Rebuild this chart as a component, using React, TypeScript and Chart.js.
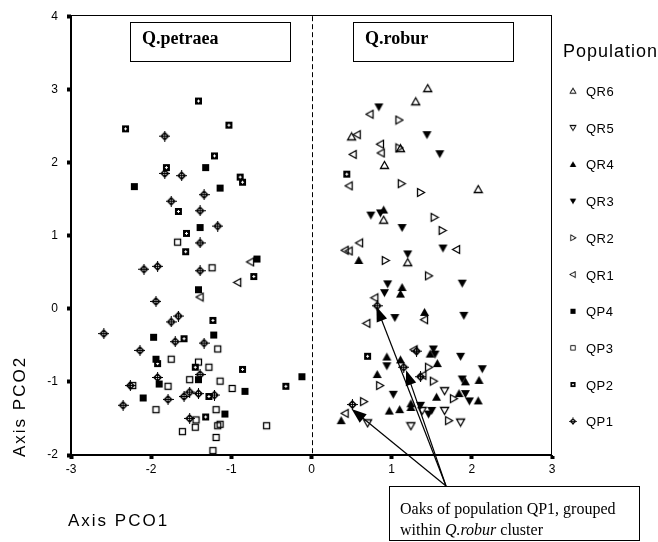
import React, { useEffect, useRef } from 'react';
import { Chart, registerables } from 'chart.js';
Chart.register(...registerables);

// ---------------- data ----------------
const X_MIN = -3, X_MAX = 3, Y_MIN = -2, Y_MAX = 4;
const SERIES_NAMES = ['QR6', 'QR5', 'QR4', 'QR3', 'QR2', 'QR1', 'QP4', 'QP3', 'QP2', 'QP1'];

const QR6: number[][] = [[1.45, 3.01], [1.30, 2.83], [0.50, 2.35], [1.11, 2.19], [0.91, 1.96], [2.08, 1.63], [0.90, 1.21], [1.20, 0.63]];
const QR5: number[][] = [[1.66, -1.12], [1.38, -1.39], [1.66, -1.39], [1.86, -1.55], [1.24, -1.60], [0.70, -1.56]];
const QR4: number[][] = [[0.90, 1.35], [0.59, 0.66], [1.13, 0.29], [1.11, 0.20], [1.41, -0.05], [1.48, -0.62], [0.94, -0.66], [1.11, -0.70], [1.57, -0.75], [0.82, -0.90], [2.09, -0.98], [1.92, -1.00], [1.56, -1.21], [1.84, -1.16], [2.08, -1.26], [1.24, -1.30], [1.24, -1.35], [0.97, -1.40], [1.10, -1.38], [0.37, -1.53]];
const QR3: number[][] = [[0.84, 2.76], [1.44, 2.38], [1.60, 2.12], [0.74, 1.28], [0.86, 1.31], [1.13, 1.11], [1.20, 0.75], [1.64, 0.83], [0.95, 0.34], [1.88, 0.35], [0.91, 0.22], [1.04, -0.12], [1.90, -0.09], [1.52, -0.55], [1.54, -0.62], [1.86, -0.65], [0.94, -0.78], [2.13, -0.82], [1.88, -0.96], [1.02, -1.17], [1.92, -1.16], [1.97, -1.26], [1.36, -1.32], [1.50, -1.39], [1.46, -1.44]];
const QR2: number[][] = [[1.09, 2.58], [1.09, 2.20], [1.12, 1.71], [1.36, 1.59], [1.53, 1.25], [1.63, 1.07], [0.92, 0.66], [1.46, 0.45], [1.46, -0.80], [1.52, -0.99], [0.85, -1.05], [1.77, -1.23], [0.65, -1.27], [1.71, -1.53]];
const QR1: number[][] = [[-0.76, 0.64], [-0.92, 0.36], [-1.39, 0.16], [0.73, 2.66], [0.57, 2.38], [0.86, 2.25], [0.87, 2.13], [0.52, 2.11], [0.47, 1.68], [0.60, 0.90], [0.42, 0.80], [0.47, 0.79], [1.81, 0.81], [0.79, 0.15], [1.41, -0.15], [0.69, -0.20], [1.28, -0.56], [1.39, -0.91], [0.42, -1.43]];
const QP4: number[][] = [[-1.32, 1.93], [-2.21, 1.67], [-1.14, 1.65], [-1.39, 1.11], [-0.68, 0.68], [-1.41, 0.26], [-1.97, -0.39], [-1.22, -0.36], [-1.94, -0.69], [-0.12, -0.93], [-1.41, -0.97], [-1.90, -1.03], [-0.83, -1.13], [-2.10, -1.22], [-1.08, -1.44]];
const QP3: number[][] = [[-1.67, 0.91], [-1.24, 0.56], [-1.17, -0.55], [-1.75, -0.69], [-1.41, -0.73], [-1.28, -0.80], [-1.52, -0.97], [-1.14, -0.99], [-2.23, -1.05], [-1.79, -1.06], [-0.99, -1.09], [-1.94, -1.38], [-1.19, -1.38], [-1.44, -1.52], [-1.14, -1.58], [-1.17, -1.60], [-1.45, -1.62], [-0.56, -1.60], [-1.61, -1.68], [-1.19, -1.76], [-1.23, -1.94]];
const QP2: number[][] = [[-1.41, 2.84], [-2.32, 2.46], [-1.03, 2.51], [-1.21, 2.09], [-1.81, 1.93], [-0.89, 1.80], [-0.86, 1.73], [-1.66, 1.33], [-1.56, 1.03], [-1.57, 0.78], [-0.72, 0.44], [-1.23, -0.16], [-1.59, -0.41], [-1.92, -0.75], [-1.45, -0.80], [-0.86, -0.83], [-0.32, -1.06], [-1.28, -1.20], [-1.32, -1.48], [0.44, 1.84], [0.70, -0.65]];
const QP1: number[][] = [[-1.83, 2.36], [-1.83, 1.85], [-1.62, 1.82], [-1.34, 1.56], [-1.75, 1.47], [-1.39, 1.34], [-1.17, 1.13], [-1.39, 0.90], [-2.09, 0.54], [-1.92, 0.58], [-1.39, 0.52], [-1.94, 0.10], [-1.66, -0.10], [-1.75, -0.18], [-2.59, -0.34], [-1.70, -0.45], [-1.34, -0.47], [-2.14, -0.57], [-1.39, -0.90], [-1.92, -0.94], [-2.26, -1.05], [-1.52, -1.14], [-1.41, -1.16], [-1.59, -1.20], [-1.21, -1.18], [-1.79, -1.24], [-2.35, -1.32], [-1.52, -1.50], [0.82, 0.04], [1.31, -0.58], [1.15, -0.80], [1.36, -0.93], [0.51, -1.31]];

const SERIES_POINTS = [QR6, QR5, QR4, QR3, QR2, QR1, QP4, QP3, QP2, QP1];
const SERIES_SYMBOLS = ['triUpOpen', 'triDownOpen', 'triUpFill', 'triDownFill', 'triRightOpen', 'triLeftOpen', 'sqFill', 'sqOpen', 'sqDot', 'crossCircle'];

// annotation arrows point at QP1 oaks inside the Q.robur cluster
const ARROW_TARGETS: number[][] = [[0.81, 0.03], [1.18, -0.84], [0.50, -1.37]];
const CLUSTER_LABELS = ['Q.petraea', 'Q.robur'];
const CLUSTER_LABEL_X = [[-2.26, -0.27], [0.52, 2.51]];
const CLUSTER_LABEL_Y = [3.92, 3.39];

const FONT_SANS = '"Liberation Sans", Arial, sans-serif';
const FONT_SERIF = '"Liberation Serif", "Times New Roman", serif';

function makeSymbol(kind: string): HTMLCanvasElement {
  const c = document.createElement('canvas');
  c.width = 11; c.height = 11;
  const g = c.getContext('2d')!;
  g.strokeStyle = '#000'; g.fillStyle = '#000'; g.lineWidth = 1.3;
  const tri = (pts: number[][], fill: boolean) => {
    g.beginPath(); g.moveTo(pts[0][0], pts[0][1]);
    for (let i = 1; i < pts.length; i++) g.lineTo(pts[i][0], pts[i][1]);
    g.closePath();
    if (fill) g.fill(); else g.stroke();
  };
  switch (kind) {
    case 'triUpOpen': tri([[5.5, 1.5], [9.5, 8.5], [1.5, 8.5]], false); break;
    case 'triUpFill': tri([[5.5, 1], [10, 9], [1, 9]], true); break;
    case 'triDownOpen': tri([[1.5, 2.5], [9.5, 2.5], [5.5, 9.5]], false); break;
    case 'triDownFill': tri([[1, 2], [10, 2], [5.5, 10]], true); break;
    case 'triRightOpen': tri([[2.5, 1.5], [2.5, 9.5], [9.5, 5.5]], false); break;
    case 'triLeftOpen': tri([[8.5, 1.5], [8.5, 9.5], [1.5, 5.5]], false); break;
    case 'sqFill': g.fillRect(2, 2, 7, 7); break;
    case 'sqOpen': g.strokeRect(2.5, 2.5, 6, 6); break;
    case 'sqDot':
      g.fillRect(2, 2, 7, 7);
      g.fillStyle = '#fff'; g.fillRect(5, 4, 1, 3); g.fillRect(4, 5, 3, 1);
      break;
    case 'crossCircle':
      g.lineWidth = 1.6;
      g.beginPath(); g.moveTo(5.5, 2); g.lineTo(9, 5.5); g.lineTo(5.5, 9); g.lineTo(2, 5.5); g.closePath(); g.stroke();
      g.fillRect(5, 0, 1, 11); g.fillRect(0, 5, 11, 1);
      break;
  }
  return c;
}

function drawArrow(ctx: CanvasRenderingContext2D, x0: number, y0: number, x1: number, y1: number) {
  const ang = Math.atan2(y1 - y0, x1 - x0);
  const L = 15, W = 5.5;
  const cs = Math.cos(ang), sn = Math.sin(ang);
  ctx.beginPath(); ctx.moveTo(x0, y0); ctx.lineTo(x1 - cs * L * 0.7, y1 - sn * L * 0.7); ctx.stroke();
  ctx.beginPath();
  ctx.moveTo(x1, y1);
  ctx.lineTo(x1 - L * cs + W * sn, y1 - L * sn - W * cs);
  ctx.lineTo(x1 - L * cs - W * sn, y1 - L * sn + W * cs);
  ctx.closePath(); ctx.fill();
}

export default function App() {
  const ref = useRef<HTMLCanvasElement>(null);
  useEffect(() => {
    document.body.style.margin = '0';
    const symbols = SERIES_SYMBOLS.map(makeSymbol);
    const overlay = {
      id: 'overlay',
      afterDatasetsDraw(chart: any) {
        const { ctx, chartArea: a, scales } = chart;
        const xs = scales.x, ys = scales.y;
        ctx.save();
        ctx.strokeStyle = '#000'; ctx.fillStyle = '#000'; ctx.lineWidth = 1;
        // frame
        ctx.strokeRect(Math.round(a.left) - 0.5, Math.round(a.top) - 0.5, Math.round(a.right - a.left), Math.round(a.bottom - a.top));
        // dashed zero line
        const x0 = Math.round(xs.getPixelForValue(0)) + 0.5;
        ctx.setLineDash([5, 3]);
        ctx.beginPath(); ctx.moveTo(x0, a.top); ctx.lineTo(x0, a.bottom); ctx.stroke();
        ctx.setLineDash([]);
        // cluster label boxes
        CLUSTER_LABELS.forEach((lab, i) => {
          const l = Math.round(xs.getPixelForValue(CLUSTER_LABEL_X[i][0])) + 0.5;
          const r = Math.round(xs.getPixelForValue(CLUSTER_LABEL_X[i][1])) + 0.5;
          const t = Math.round(ys.getPixelForValue(CLUSTER_LABEL_Y[0])) + 0.5;
          const b = Math.round(ys.getPixelForValue(CLUSTER_LABEL_Y[1])) + 0.5;
          ctx.fillStyle = '#fff'; ctx.fillRect(l, t, r - l, b - t);
          ctx.strokeRect(l, t, r - l, b - t);
          ctx.fillStyle = '#000';
          ctx.font = `bold 18px ${FONT_SERIF}`;
          ctx.textAlign = 'left'; ctx.textBaseline = 'alphabetic';
          ctx.fillText(lab, l + 11.5, t + 21);
        });
        // arrows
        const ox = 446, oy = 486;
        ctx.lineWidth = 1.2;
        ARROW_TARGETS.forEach((p) => {
          drawArrow(ctx, ox, oy, xs.getPixelForValue(p[0]), ys.getPixelForValue(p[1]));
        });
        ctx.restore();
      },
      afterDraw(chart: any) {
        const { ctx } = chart;
        ctx.save();
        ctx.fillStyle = '#000'; ctx.strokeStyle = '#000'; ctx.lineWidth = 1;
        // annotation box
        ctx.fillStyle = '#fff';
        ctx.fillRect(389.5, 486.5, 250, 54);
        ctx.strokeRect(389.5, 486.5, 250, 54);
        ctx.fillStyle = '#000';
        ctx.textAlign = 'left'; ctx.textBaseline = 'alphabetic';
        ctx.font = `16px ${FONT_SERIF}`;
        ctx.fillText('Oaks of population QP1, grouped', 400, 514);
        let tx = 400;
        const p1 = 'within ';
        ctx.fillText(p1, tx, 535); tx += ctx.measureText(p1).width;
        ctx.font = `italic 16px ${FONT_SERIF}`;
        ctx.fillText('Q.robur', tx, 535); tx += ctx.measureText('Q.robur').width;
        ctx.font = `16px ${FONT_SERIF}`;
        ctx.fillText(' cluster', tx, 535);
        // axis titles
        (ctx as any).letterSpacing = '2px';
        ctx.font = `17px ${FONT_SANS}`;
        ctx.fillText('Axis PCO1', 68, 526);
        ctx.save();
        ctx.translate(25, 457);
        ctx.rotate(-Math.PI / 2);
        ctx.fillText('Axis PCO2', 0, 0);
        ctx.restore();
        // legend
        (ctx as any).letterSpacing = '1px';
        ctx.font = `18px ${FONT_SANS}`;
        ctx.fillText('Population', 563, 56.5);
        (ctx as any).letterSpacing = '0.5px';
        ctx.font = `13px ${FONT_SANS}`;
        SERIES_NAMES.forEach((name, i) => {
          const cy = 91 + 36.7 * i;
          const s = symbols[i];
          ctx.drawImage(s, 573 - 4, cy - 4, 8, 8);
          ctx.fillText(name, 586, cy + 5);
        });
        ctx.restore();
      },
    };

    const chart = new Chart(ref.current!, {
      type: 'scatter',
      data: {
        datasets: SERIES_NAMES.map((name, i) => ({
          label: name,
          data: SERIES_POINTS[i].map((p) => ({ x: p[0], y: p[1] })),
          pointStyle: symbols[i] as any,
          pointRadius: 5,
          showLine: false,
        })),
      },
      options: {
        animation: false,
        responsive: false,
        devicePixelRatio: 1,
        events: [],
        layout: { padding: { top: 16, right: 106, left: 0, bottom: 0 } },
        plugins: { legend: { display: false }, tooltip: { enabled: false } },
        scales: {
          x: {
            type: 'linear', min: X_MIN, max: X_MAX,
            afterFit: (s: any) => { s.height = 87; },
            ticks: { stepSize: 1, color: '#000', font: { family: FONT_SANS, size: 12 }, padding: 3, maxRotation: 0 },
            grid: { drawOnChartArea: false, tickLength: 4, tickWidth: 4, tickColor: '#000' },
            border: { display: true, color: '#000', width: 1 },
          },
          y: {
            type: 'linear', min: Y_MIN, max: Y_MAX,
            afterFit: (s: any) => { s.width = 71; },
            ticks: { stepSize: 1, color: '#000', font: { family: FONT_SANS, size: 12 }, padding: 9 },
            grid: { drawOnChartArea: false, tickLength: 4, tickWidth: 4, tickColor: '#000' },
            border: { display: true, color: '#000', width: 1 },
          },
        },
      },
      plugins: [overlay],
    });
    return () => chart.destroy();
  }, []);
  return <canvas ref={ref} width={658} height={542} style={{ display: 'block' }} />;
}
